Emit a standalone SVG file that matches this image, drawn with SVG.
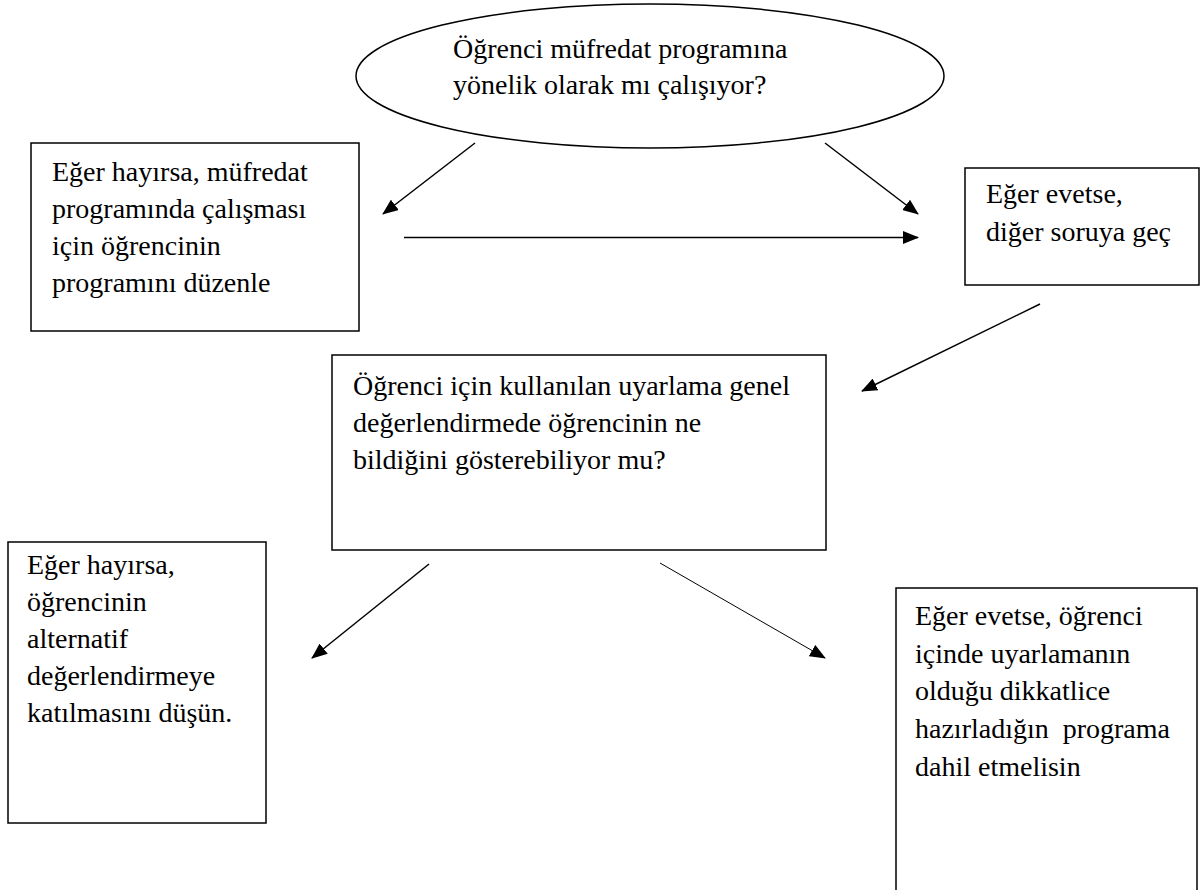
<svg xmlns="http://www.w3.org/2000/svg" width="1204" height="890" viewBox="0 0 1204 890">
<style>
.node{fill:#fff;stroke:#000;stroke-width:1.5}
.t{font-family:"Liberation Serif","Times New Roman",serif;font-size:28px;fill:#000}
.c{fill:none;stroke:#000;stroke-width:1.5}
.thin{stroke-width:1}
</style>
<defs>
<marker id="ah" markerUnits="userSpaceOnUse" markerWidth="16" markerHeight="13" refX="15" refY="6.5" orient="auto">
<path d="M0,0 L16,6.5 L0,13 z" fill="#000"/>
</marker>
</defs>
<rect width="1204" height="890" fill="#fff"/>
<g id="q1">
<ellipse class="node" cx="650" cy="76" rx="294" ry="72" stroke-width="1.3"/>
<text class="t" x="453" y="58">Öğrenci müfredat programına</text>
<text class="t" x="453" y="94">yönelik olarak mı çalışıyor?</text>
</g>
<g id="no1">
<rect class="node" x="31" y="143" width="328" height="188"/>
<text class="t" x="52" y="181">Eğer hayırsa, müfredat</text>
<text class="t" x="52" y="218">programında çalışması</text>
<text class="t" x="52" y="255">için öğrencinin</text>
<text class="t" x="52" y="292">programını düzenle</text>
</g>
<g id="yes1">
<rect class="node" x="965" y="168" width="234" height="117"/>
<text class="t" x="986" y="203">Eğer evetse,</text>
<text class="t" x="986" y="241">diğer soruya geç</text>
</g>
<g id="q2">
<rect class="node" x="332" y="355" width="494" height="195"/>
<text class="t" x="353" y="395">Öğrenci için kullanılan uyarlama genel</text>
<text class="t" x="353" y="432">değerlendirmede öğrencinin ne</text>
<text class="t" x="353" y="469">bildiğini gösterebiliyor mu?</text>
</g>
<g id="no2">
<rect class="node" x="8" y="542" width="258" height="281"/>
<text class="t" x="27" y="574">Eğer hayırsa,</text>
<text class="t" x="27" y="611">öğrencinin</text>
<text class="t" x="27" y="648">alternatif</text>
<text class="t" x="27" y="685">değerlendirmeye</text>
<text class="t" x="27" y="722">katılmasını düşün.</text>
</g>
<g id="yes2">
<rect class="node" x="896" y="588" width="301" height="330"/>
<text class="t" x="915" y="625">Eğer evetse, öğrenci</text>
<text class="t" x="915" y="663">içinde uyarlamanın</text>
<text class="t" x="915" y="700">olduğu dikkatlice</text>
<text class="t" x="915" y="738" xml:space="preserve">hazırladığın  programa</text>
<text class="t" x="915" y="776">dahil etmelisin</text>
</g>
<g id="connectors">
<line class="c" x1="475" y1="143" x2="383" y2="214" marker-end="url(#ah)"/>
<line class="c" x1="825" y1="143" x2="918" y2="214" marker-end="url(#ah)"/>
<line class="c" x1="404" y1="237.5" x2="918" y2="237.5" marker-end="url(#ah)"/>
<line class="c" x1="1040" y1="304" x2="862" y2="391" marker-end="url(#ah)"/>
<line class="c" x1="429" y1="564" x2="312" y2="658" marker-end="url(#ah)"/>
<line class="c thin" x1="660" y1="563" x2="825" y2="658" marker-end="url(#ah)"/>
</g>
</svg>
